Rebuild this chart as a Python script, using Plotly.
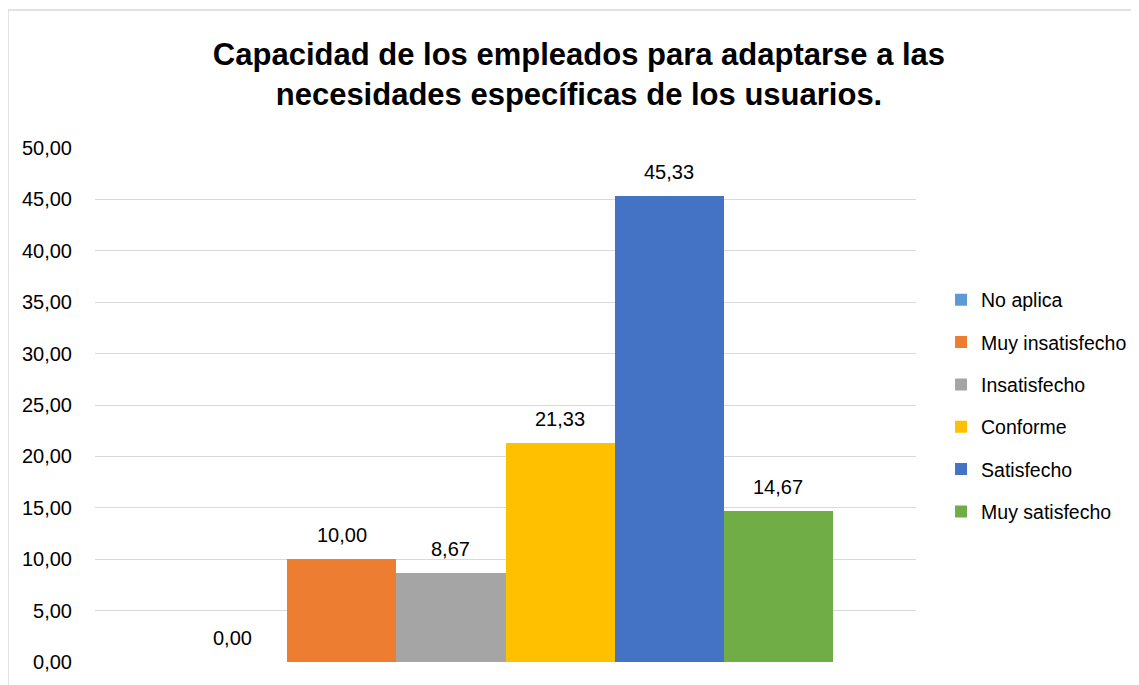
import plotly.graph_objects as go

title = "Capacidad de los empleados para adaptarse a las<br>necesidades específicas de los usuarios."
series_names = ["No aplica", "Muy insatisfecho", "Insatisfecho", "Conforme", "Satisfecho", "Muy satisfecho"]
series_values = [0.00, 10.00, 8.67, 21.33, 45.33, 14.67]
series_colors = ["#5b9bd5", "#ed7d31", "#a5a5a5", "#ffc000", "#4472c4", "#70ad47"]
y_ticks = [0, 5, 10, 15, 20, 25, 30, 35, 40, 45, 50]

FONT = "Liberation Sans, Arial, sans-serif"

fig = go.Figure()
for name, val, col in zip(series_names, series_values, series_colors):
	fig.add_trace(
		go.Bar(
			x=[name],
			y=[val],
			name=name,
			legendgroup=name,
			marker_color=col,
			marker_line_width=0,
		)
	)
	# value label above each bar
	fig.add_annotation(
		x=name,
		y=val,
		text=f"{val:.2f}".replace(".", ","),
		showarrow=False,
		yanchor="bottom",
		yshift=11,
		font=dict(size=20, color="#000000", family=FONT),
	)

fig.update_yaxes(
	range=[0, 50],
	tickvals=y_ticks,
	tickformat=".2f",
	showgrid=True,
	gridcolor="#d9d9d9",
	gridwidth=1,
	zeroline=False,
	showline=False,
	ticks="",
	ticklabelstandoff=22,
	tickfont=dict(size=20, color="#000000", family=FONT),
)
fig.update_xaxes(
	range=[-1.26, len(series_names) - 1 + 1.26],
	showticklabels=False,
	showline=False,
	ticks="",
	showgrid=False,
)

fig.update_layout(
	width=1139,
	height=685,
	margin={"l": 87, "r": 231, "t": 140, "b": 31, "autoexpand": False},
	plot_bgcolor="#ffffff",
	paper_bgcolor="#ffffff",
	separators=",.",
	barmode="relative",
	bargap=0,
	title={
		"text": f"<b>{title}</b>",
		"x": 0.5013,
		"xanchor": "center",
		"y": 0.9165,
		"yanchor": "middle",
		"yref": "container",
	},
	title_font=dict(size=31, color="#000000", family=FONT),
	legend=dict(
		x=1.0305,
		y=0.498,
		xanchor="left",
		yanchor="middle",
		font=dict(size=19.5, color="#000000", family=FONT),
		tracegroupgap=14,
		itemwidth=30,
		traceorder="grouped",
	),
	shapes=[
		dict(
			type="rect",
			xref="paper",
			yref="paper",
			x0=-0.106,
			x1=2,
			y0=-1,
			y1=1.2685,
			line=dict(color="#d9d9d9", width=1.5),
			fillcolor="rgba(0,0,0,0)",
			layer="below",
		)
	],
)

fig.write_html("out.html")
